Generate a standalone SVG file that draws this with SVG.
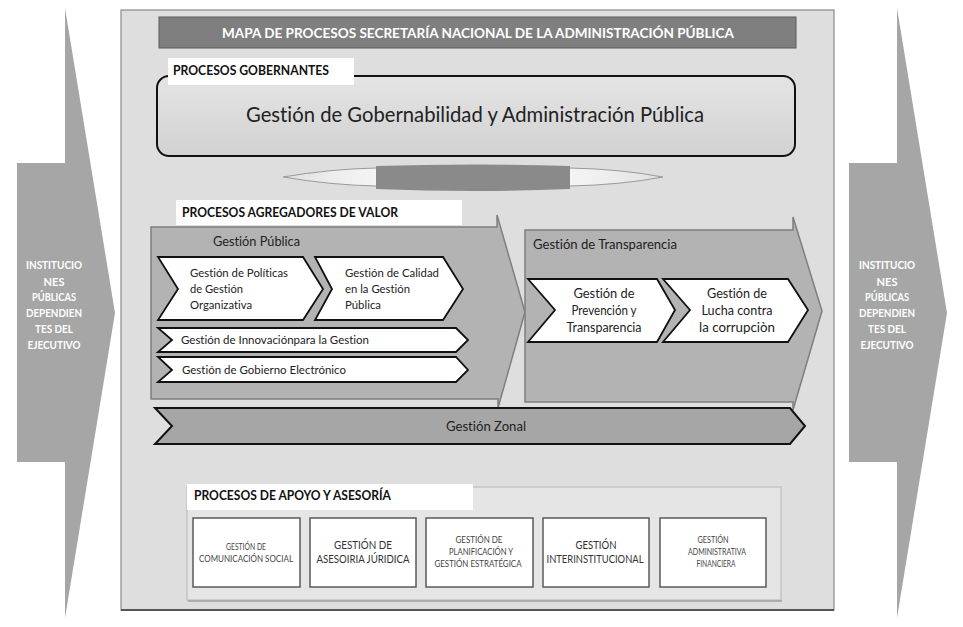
<svg xmlns="http://www.w3.org/2000/svg" width="963" height="627" viewBox="0 0 963 627">
<defs>
<linearGradient id="gobGrad" x1="0" y1="0" x2="0" y2="1">
<stop offset="0" stop-color="#e4e4e4"/>
<stop offset="1" stop-color="#d2d2d2"/>
</linearGradient>
<linearGradient id="barGrad" x1="0" y1="0" x2="1" y2="0">
<stop offset="0" stop-color="#ffffff" stop-opacity="0"/>
<stop offset="0.25" stop-color="#f4f4f4"/>
<stop offset="0.75" stop-color="#f4f4f4"/>
<stop offset="1" stop-color="#ffffff" stop-opacity="0"/>
</linearGradient>
</defs>
<style>
text{font-family:"Lato","Open Sans","Liberation Sans",sans-serif;font-variant-ligatures:none;font-feature-settings:"liga" 0;}
.side{fill:#a6a6a6;}
.sidet{fill:#ffffff;font-weight:bold;font-size:11px;text-anchor:middle;}
.big{fill:#b3b3b3;stroke:#7f7f7f;stroke-width:1.5;}
.chev{fill:#ffffff;stroke:#111111;stroke-width:1.8;}
.lbl{fill:#ffffff;}
.hd{font-weight:bold;font-size:13px;fill:#111111;}
.t12{font-size:12px;fill:#222222;}
.t13{font-size:13px;fill:#222222;}
.box{fill:#ffffff;stroke:#5a5a5a;stroke-width:1.5;}
.s8{font-size:8.5px;fill:#444444;text-anchor:middle;}
.s11{font-size:11px;fill:#333333;text-anchor:middle;}
</style>

<g id="entrada-izquierda">
<polygon class="side" points="17,163 65,163 65,8 115,313 65,618 65,462 17,462"/>
<text class="sidet" x="54" y="269" textLength="56" lengthAdjust="spacingAndGlyphs">INSTITUCIO</text>
<text class="sidet" x="54" y="286">NES</text>
<text class="sidet" x="54" y="301" textLength="44" lengthAdjust="spacingAndGlyphs">PÚBLICAS</text>
<text class="sidet" x="54" y="317" textLength="56" lengthAdjust="spacingAndGlyphs">DEPENDIEN</text>
<text class="sidet" x="54" y="333" textLength="38" lengthAdjust="spacingAndGlyphs">TES DEL</text>
<text class="sidet" x="54" y="349" textLength="53" lengthAdjust="spacingAndGlyphs">EJECUTIVO</text>
</g>

<g id="salida-derecha">
<polygon class="side" points="849,163 897,163 897,8 947,313 897,618 897,462 849,462"/>
<text class="sidet" x="887" y="269" textLength="56" lengthAdjust="spacingAndGlyphs">INSTITUCIO</text>
<text class="sidet" x="887" y="286">NES</text>
<text class="sidet" x="887" y="301" textLength="44" lengthAdjust="spacingAndGlyphs">PÚBLICAS</text>
<text class="sidet" x="887" y="317" textLength="56" lengthAdjust="spacingAndGlyphs">DEPENDIEN</text>
<text class="sidet" x="887" y="333" textLength="38" lengthAdjust="spacingAndGlyphs">TES DEL</text>
<text class="sidet" x="887" y="349" textLength="53" lengthAdjust="spacingAndGlyphs">EJECUTIVO</text>
</g>

<g id="marco">
<rect x="121" y="10" width="713" height="600" fill="#dedede" stroke="#8a8a8a" stroke-width="1.2"/>
<line x1="121" y1="610" x2="834" y2="610" stroke="#555555" stroke-width="2"/>
</g>

<g id="titulo">
<rect x="159" y="17" width="637" height="31" fill="#7f7f7f" stroke="#5a5a5a" stroke-width="1"/>
<text x="478" y="38" text-anchor="middle" font-weight="bold" font-size="14" fill="#ffffff" textLength="512" lengthAdjust="spacingAndGlyphs">MAPA DE PROCESOS SECRETARÍA NACIONAL DE LA ADMINISTRACIÓN PÚBLICA</text>
</g>

<g id="procesos-gobernantes">
<rect x="157" y="76" width="638" height="80" rx="12" ry="12" fill="url(#gobGrad)" stroke="#111111" stroke-width="2"/>
<rect class="lbl" x="168" y="58" width="186" height="27"/>
<text class="hd" x="173" y="75" textLength="156" lengthAdjust="spacingAndGlyphs">PROCESOS GOBERNANTES</text>
<text x="475" y="122" text-anchor="middle" font-size="21" fill="#222222" textLength="458" lengthAdjust="spacingAndGlyphs">Gestión de Gobernabilidad  y Administración  Pública</text>
</g>

<g id="connectors">
<path d="M283,177 Q330,169 376,168 L570,168 Q620,169 663,177 Q620,185 570,186 L376,186 Q330,185 283,177 Z" fill="url(#barGrad)" stroke="#9a9a9a" stroke-width="1"/>
<path d="M376,166 Q473,163 570,166 L570,189 Q473,193 376,189 Z" fill="#8a8a8a"/>
</g>

<g id="procesos-agregadores">
<rect class="lbl" x="176" y="200" width="286" height="25"/>
<text class="hd" x="182" y="217" textLength="216" lengthAdjust="spacingAndGlyphs">PROCESOS AGREGADORES DE VALOR</text>
</g>

<g id="gestion-publica">
<polygon class="big" points="151,227 497,227 497,215 525,312 498,408 498,399 151,399"/>
<text class="t13" x="213" y="246" textLength="87" lengthAdjust="spacingAndGlyphs">Gestión Pública</text>
</g>

<g id="gestion-transparencia">
<polygon class="big" points="525,230 793,230 793,217 822,311 793,410 793,402 525,402" fill="#acacac"/>
<text class="t13" x="533" y="249" textLength="144" lengthAdjust="spacingAndGlyphs">Gestión de Transparencia</text>
</g>

<g id="gestion-politicas">
<polygon class="chev" points="158,257 303,257 323,289 303,320 158,320 178,289"/>
<text class="t12" x="190" y="277" textLength="98" lengthAdjust="spacingAndGlyphs">Gestión de Políticas</text>
<text class="t12" x="190" y="293" textLength="53" lengthAdjust="spacingAndGlyphs">de Gestión</text>
<text class="t12" x="190" y="309" textLength="62" lengthAdjust="spacingAndGlyphs">Organizativa</text>
</g>

<g id="gestion-calidad">
<polygon class="chev" points="315,257 443,257 463,289 443,320 315,320 332,289"/>
<text class="t12" x="345" y="277" textLength="94" lengthAdjust="spacingAndGlyphs">Gestión de Calidad</text>
<text class="t12" x="345" y="293" textLength="65" lengthAdjust="spacingAndGlyphs">en la Gestión</text>
<text class="t12" x="345" y="309" textLength="36" lengthAdjust="spacingAndGlyphs">Pública</text>
</g>

<g id="gestion-innovacion">
<polygon class="chev" points="158,328 456,328 468,340 456,352 158,352 172,340"/>
<text class="t12" x="181" y="344" textLength="188" lengthAdjust="spacingAndGlyphs">Gestión de Innovaciónpara  la Gestion</text>
</g>

<g id="gestion-gobierno-electronico">
<polygon class="chev" points="158,357 456,357 468,370 456,382 158,382 172,370"/>
<text class="t12" x="182" y="374" textLength="164" lengthAdjust="spacingAndGlyphs">Gestión de Gobierno  Electrónico</text>
</g>

<g id="gestion-prevencion">
<polygon class="chev" points="528,279 657,279 675,310 657,342 528,342 555,310"/>
<text class="t13" x="604" y="298" text-anchor="middle" textLength="61" lengthAdjust="spacingAndGlyphs">Gestión de</text>
<text class="t13" x="604" y="315" text-anchor="middle" textLength="65" lengthAdjust="spacingAndGlyphs">Prevención y</text>
<text class="t13" x="604" y="332" text-anchor="middle" textLength="75" lengthAdjust="spacingAndGlyphs">Transparencia</text>
</g>

<g id="gestion-lucha">
<polygon class="chev" points="663,279 788,279 808,310 788,342 663,342 690,310"/>
<text class="t13" x="737" y="298" text-anchor="middle" textLength="60" lengthAdjust="spacingAndGlyphs">Gestión de</text>
<text class="t13" x="737" y="315" text-anchor="middle" textLength="71" lengthAdjust="spacingAndGlyphs">Lucha contra</text>
<text class="t13" x="737" y="332" text-anchor="middle" textLength="76" lengthAdjust="spacingAndGlyphs">la corrupciòn</text>
</g>

<g id="gestion-zonal">
<polygon points="155,408 790,408 805,426 790,444 155,444 172,426" fill="#a6a6a6" stroke="#111111" stroke-width="2"/>
<text class="t13" x="486" y="431" text-anchor="middle" textLength="80" lengthAdjust="spacingAndGlyphs">Gestión Zonal</text>
</g>

<g id="procesos-apoyo">
<rect x="187" y="487" width="594" height="113" fill="#e5e5e5" stroke="#bdbdbd" stroke-width="1.2"/>
<line x1="188" y1="601" x2="782" y2="601" stroke="#a0a0a0" stroke-width="1.5"/>
<rect class="lbl" x="187" y="484" width="286" height="26"/>
<text class="hd" x="194" y="500" textLength="197" lengthAdjust="spacingAndGlyphs">PROCESOS DE APOYO Y ASESORÍA</text>
</g>

<g id="comunicacion-social">
<rect class="box" x="193" y="518" width="107" height="69"/>
<text class="s8" x="246" y="550" textLength="40" lengthAdjust="spacingAndGlyphs">GESTIÓN DE</text>
<text class="s8" x="246" y="562" textLength="94" lengthAdjust="spacingAndGlyphs">COMUNICACIÓN SOCIAL</text>
</g>

<g id="asesoria-juridica">
<rect class="box" x="310" y="518" width="106" height="69"/>
<text class="s11" x="363" y="549" textLength="58" lengthAdjust="spacingAndGlyphs">GESTIÓN DE</text>
<text class="s11" x="363" y="563" textLength="93" lengthAdjust="spacingAndGlyphs">ASESOIRIA JÚRIDICA</text>
</g>

<g id="planificacion">
<rect class="box" x="426" y="518" width="107" height="69"/>
<text class="s8" x="479" y="543" textLength="47" lengthAdjust="spacingAndGlyphs">GESTIÓN DE</text>
<text class="s8" x="481" y="555" textLength="64" lengthAdjust="spacingAndGlyphs">PLANIFICACIÓN  Y</text>
<text class="s8" x="478" y="567" textLength="87" lengthAdjust="spacingAndGlyphs">GESTIÓN  ESTRATÉGICA</text>
</g>

<g id="interinstitucional">
<rect class="box" x="543" y="518" width="106" height="69"/>
<text class="s11" x="596" y="549" textLength="41" lengthAdjust="spacingAndGlyphs">GESTIÓN</text>
<text class="s11" x="595" y="563" textLength="97" lengthAdjust="spacingAndGlyphs">INTERINSTITUCIONAL</text>
</g>

<g id="administrativa-financiera">
<rect class="box" x="660" y="518" width="106" height="69"/>
<text class="s8" x="713" y="543" textLength="31" lengthAdjust="spacingAndGlyphs">GESTIÓN</text>
<text class="s8" x="717" y="555" textLength="58" lengthAdjust="spacingAndGlyphs">ADMINISTRATIVA</text>
<text class="s8" x="716" y="567" textLength="39" lengthAdjust="spacingAndGlyphs">FINANCIERA</text>
</g>
</svg>
